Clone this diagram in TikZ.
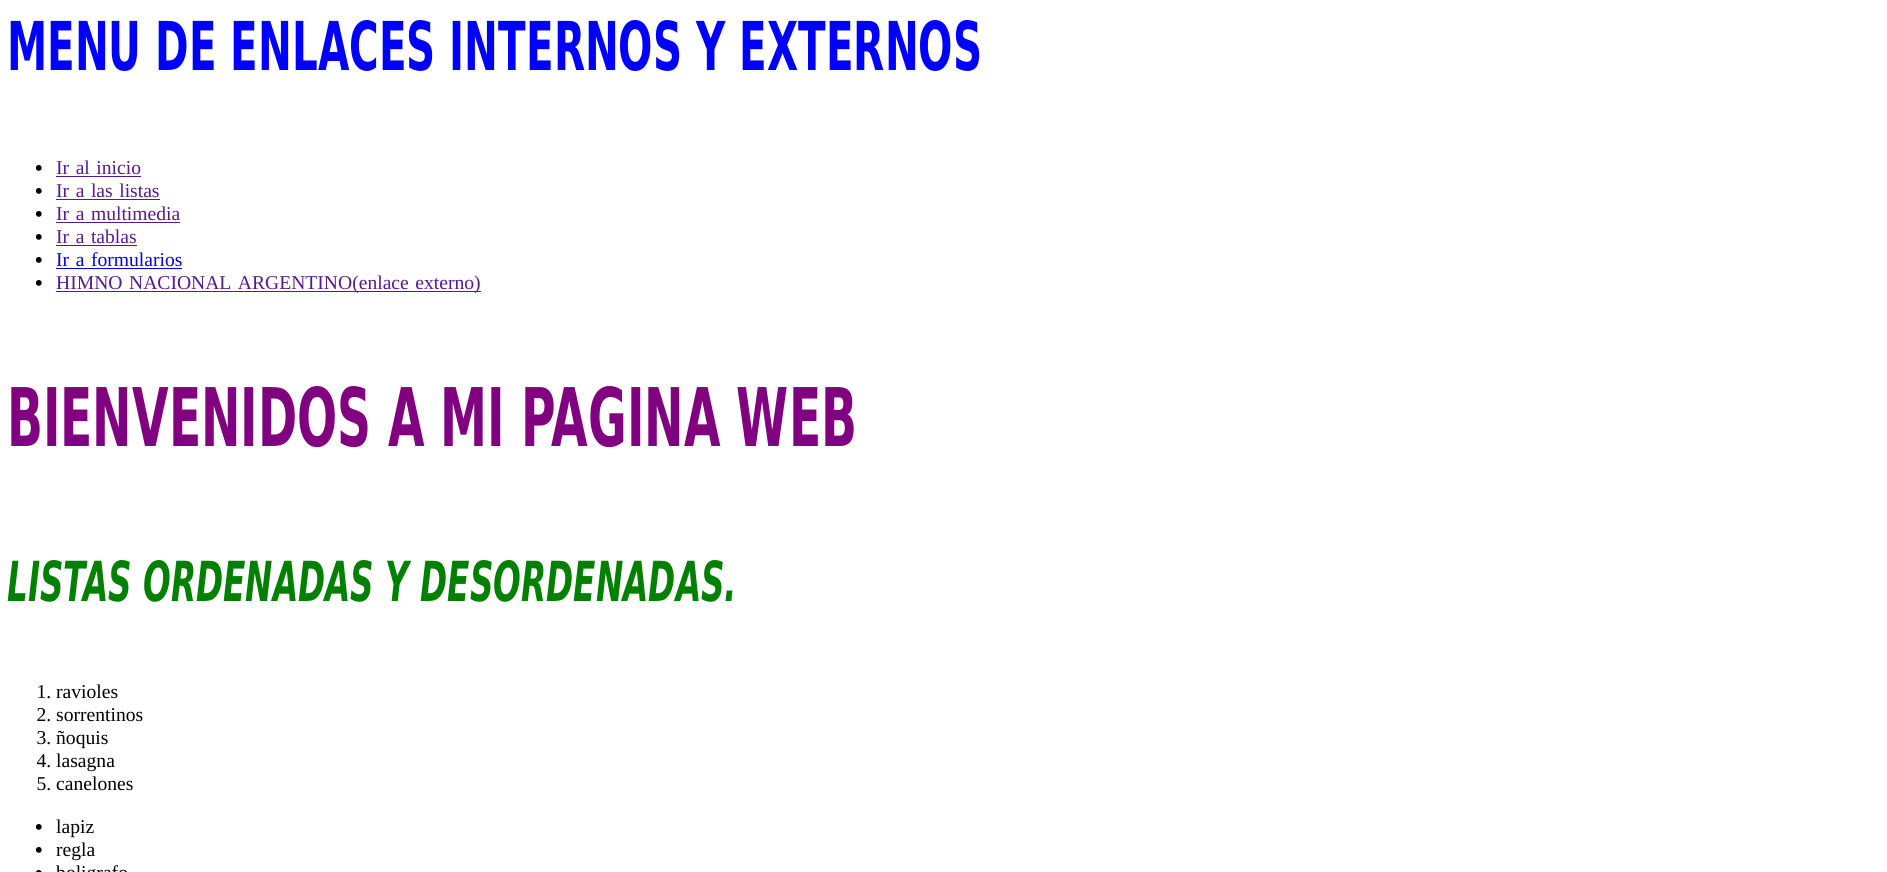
\documentclass[tikz,border=0pt]{standalone}
\usepackage{fontspec}
\setmainfont{Liberation Serif}
\newfontfamily\titulofont{DejaVu Sans Condensed}
\usepackage{graphicx}
\usetikzlibrary{positioning}

\definecolor{azulTitulo}{HTML}{0000FF}
\definecolor{purpura}{HTML}{800080}
\definecolor{verde}{HTML}{008000}
\definecolor{visitado}{HTML}{551A8B}
\definecolor{enlaceAzul}{HTML}{0000EE}

% subrayado de enlace
\newcommand{\subrayar}[1]{\setbox0\hbox{#1}\rlap{\rule[-2.8pt]{\wd0}{1.25pt}}\box0}
\newcommand{\vineta}{\llap{\color{black}\raisebox{-2pt}{\scalebox{1.25}{\textbullet}}\hspace{13pt}}}
\newcommand{\numero}[1]{\llap{#1.\hspace{5pt}}}

\begin{document}
\begin{tikzpicture}[x=1pt,y=1pt,node distance=23pt]
	%defines
	\tikzstyle{titulo} = [inner sep=0pt, anchor=south west]
	\tikzstyle{tituloMenu} = [titulo, text=azulTitulo]
	\tikzstyle{tituloBienvenida} = [titulo, text=purpura]
	\tikzstyle{tituloListas} = [titulo, text=verde]
	\tikzstyle{item} = [inner sep=0pt, text width=700pt, align=left, text height=15pt, text depth=5pt, font=\fontsize{19.6pt}{23pt}\selectfont]
	\tikzstyle{enlace} = [item, text=visitado]
	\tikzstyle{enlaceNuevo} = [item, text=enlaceAzul]
	\useasboundingbox (0,0) rectangle (1887,-872);
	\clip (0,0) rectangle (1887,-872);
	%titulos
	\node (menu) [tituloMenu] at (7,-72) {\resizebox{975pt}{50pt}{\titulofont\bfseries MENU DE ENLACES INTERNOS Y EXTERNOS}};
	\node (bienvenida) [tituloBienvenida] at (7,-448) {\resizebox{850pt}{60pt}{\titulofont\bfseries BIENVENIDOS A MI PAGINA WEB}};
	\node (listas) [tituloListas] at (7,-602) {\resizebox{730pt}{41pt}{\titulofont\bfseries\itshape LISTAS ORDENADAS Y DESORDENADAS.}};
	%menu de enlaces
	\node (irInicio) [enlace, anchor=west] at (56,-169) {\vineta\subrayar{Ir al inicio}};
	\node (irListas) [enlace, below of=irInicio] {\vineta\subrayar{Ir a las listas}};
	\node (irMultimedia) [enlace, below of=irListas] {\vineta\subrayar{Ir a multimedia}};
	\node (irTablas) [enlace, below of=irMultimedia] {\vineta\subrayar{Ir a tablas}};
	\node (irFormularios) [enlaceNuevo, below of=irTablas] {\vineta\subrayar{Ir a formularios}};
	\node (himno) [enlace, below of=irFormularios] {\vineta\subrayar{HIMNO NACIONAL ARGENTINO(enlace externo)}};
	%lista ordenada
	\node (ravioles) [item, anchor=west] at (56,-693) {\numero{1}ravioles};
	\node (sorrentinos) [item, below of=ravioles] {\numero{2}sorrentinos};
	\node (noquis) [item, below of=sorrentinos] {\numero{3}ñoquis};
	\node (lasagna) [item, below of=noquis] {\numero{4}lasagna};
	\node (canelones) [item, below of=lasagna] {\numero{5}canelones};
	%lista desordenada
	\node (lapiz) [item, anchor=west] at (56,-828) {\vineta lapiz};
	\node (regla) [item, below of=lapiz] {\vineta regla};
	\node (boligrafo) [item, below of=regla] {\vineta boligrafo};
\end{tikzpicture}
\end{document}
